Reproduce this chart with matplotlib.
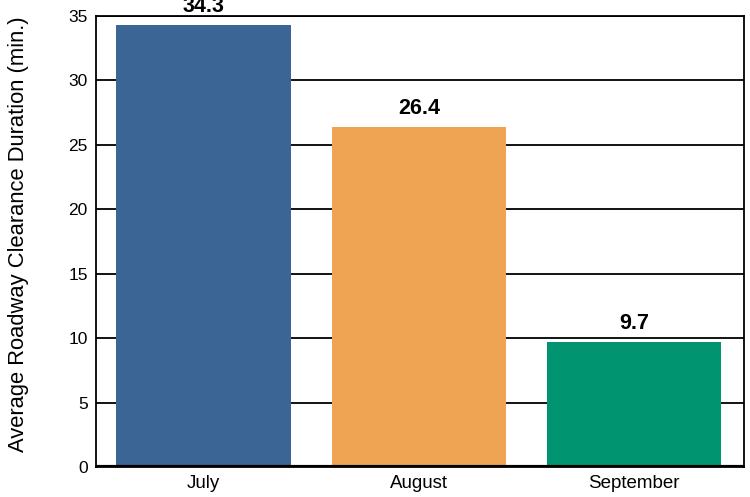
import matplotlib
matplotlib.use('Agg')
from matplotlib import pyplot as plt

months = ['July', 'August', 'September']
durations = [34.3, 26.4, 9.7]
colors = ['#3a6595', '#eea453', '#009471']

plt.rcParams['font.family'] = ['Liberation Sans', 'DejaVu Sans']

fig = plt.figure(figsize=(7.5, 4.97), dpi=100)
ax = fig.add_axes([0.128, 0.0604, 0.864, 0.9074])

x = range(len(months))
ax.bar(x, durations, width=0.81, color=colors, zorder=3)

for i, v in enumerate(durations):
    ax.text(i, v + 0.6, f'{v}', ha='center', va='bottom', fontsize=15.5,
            fontweight='bold', clip_on=False)

ax.set_xlim(-0.5, 2.51)
ax.set_ylim(0, 35)
ax.set_yticks(range(0, 36, 5))
ax.set_xticks(list(x))
ax.set_xticklabels(months, fontsize=13.5)
ax.tick_params(axis='y', labelsize=12.5, length=0, pad=6)
ax.tick_params(axis='x', length=0, pad=6)
ax.set_ylabel('Average Roadway Clearance Duration (min.)', fontsize=15.8)
ax.yaxis.set_label_coords(-0.104, 0.516)

ax.yaxis.grid(True, color='black', linewidth=1.3, zorder=0)
ax.axhline(0, color='black', linewidth=3, zorder=4)
for s in ax.spines.values():
    s.set_color('black')
    s.set_linewidth(1.3)

plt.savefig('out.png', dpi=100)
